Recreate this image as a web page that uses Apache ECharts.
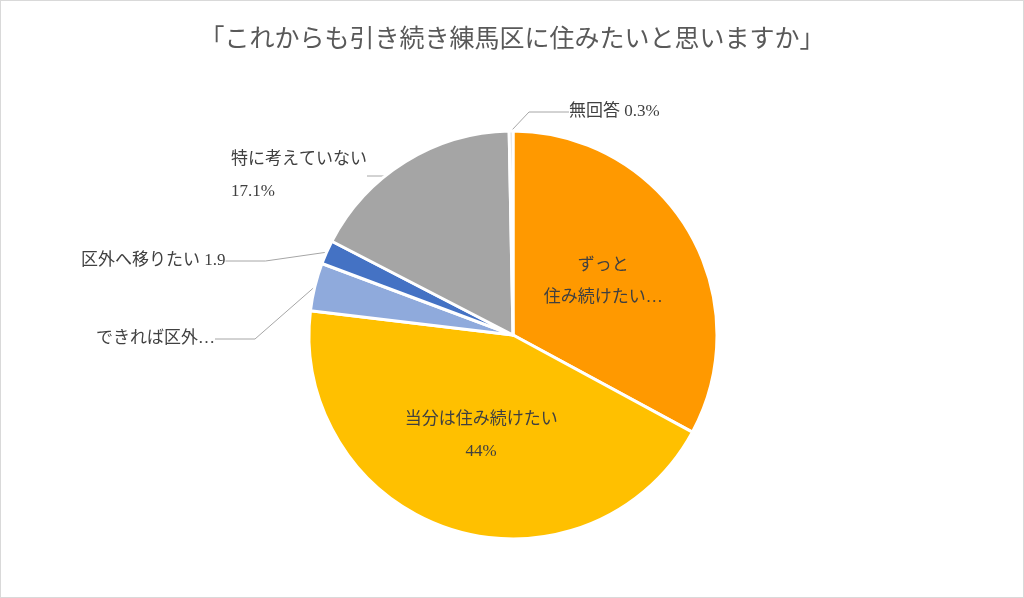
<!DOCTYPE html>
<html><head><meta charset="utf-8">
<script src="https://cdn.jsdelivr.net/npm/echarts@6/dist/echarts.min.js"></script>
<style>html,body{margin:0;padding:0;background:#fff}#c{width:1024px;height:598px;box-sizing:border-box;border:1px solid #d9d9d9}</style>
</head><body><div id="c"></div>
<script>
var names = ['ずっと住み続けたい', '当分は住み続けたい', 'できれば区外へ移りたい', '区外へ移りたい', '特に考えていない', '無回答'];
var values = [32.9, 44, 3.8, 1.9, 17.1, 0.3];
var labels = ['ずっと\n住み続けたい…', '当分は住み続けたい\n44%', 'できれば区外…', '区外へ移りたい 1.9', '特に考えていない\n17.1%', '無回答 0.3%'];
var colors = ['#FF9900', '#FFC000', '#8FAADC', '#4472C4', '#A5A5A5', '#D0D0D0'];
var inside = [true, true, false, false, false, false];

var font = '"Liberation Serif", "Noto Sans CJK JP", serif';
var data = names.map(function (n, i) {
	return {
		name: n, value: values[i],
		itemStyle: {color: colors[i]},
		label: {position: inside[i] ? 'inside' : 'outside'},
		labelLine: {show: !inside[i]}
	};
});

// hand placed outside labels, like the original chart
var labelPos = {2: [95, 322], 3: [80, 244], 4: [230, 143], 5: [568, 95]};

var chart = echarts.init(document.getElementById('c'));
chart.setOption({
	animation: false,
	title: {
		text: '「これからも引き続き練馬区に住みたいと思いますか」',
		left: 'center', top: 22,
		textStyle: {fontFamily: font, fontSize: 25, fontWeight: 'normal', color: '#595959'}
	},
	series: [{
		type: 'pie',
		center: [512, 334],
		radius: [0, 204],
		startAngle: 90,
		clockwise: true,
		itemStyle: {borderColor: '#fff', borderWidth: 3},
		label: {
			fontFamily: font, fontSize: 17, color: '#404040', lineHeight: 32,
			formatter: function (p) { return labels[p.dataIndex]; }
		},
		labelLine: {length: 15, length2: 40, lineStyle: {color: '#a6a6a6'}},
		labelLayout: function (p) {
			var pos = labelPos[p.dataIndex];
			if (!pos) return {};
			return {x: pos[0], y: pos[1], align: 'left', verticalAlign: 'top'};
		},
		data: data
	}]
});
</script></body></html>
